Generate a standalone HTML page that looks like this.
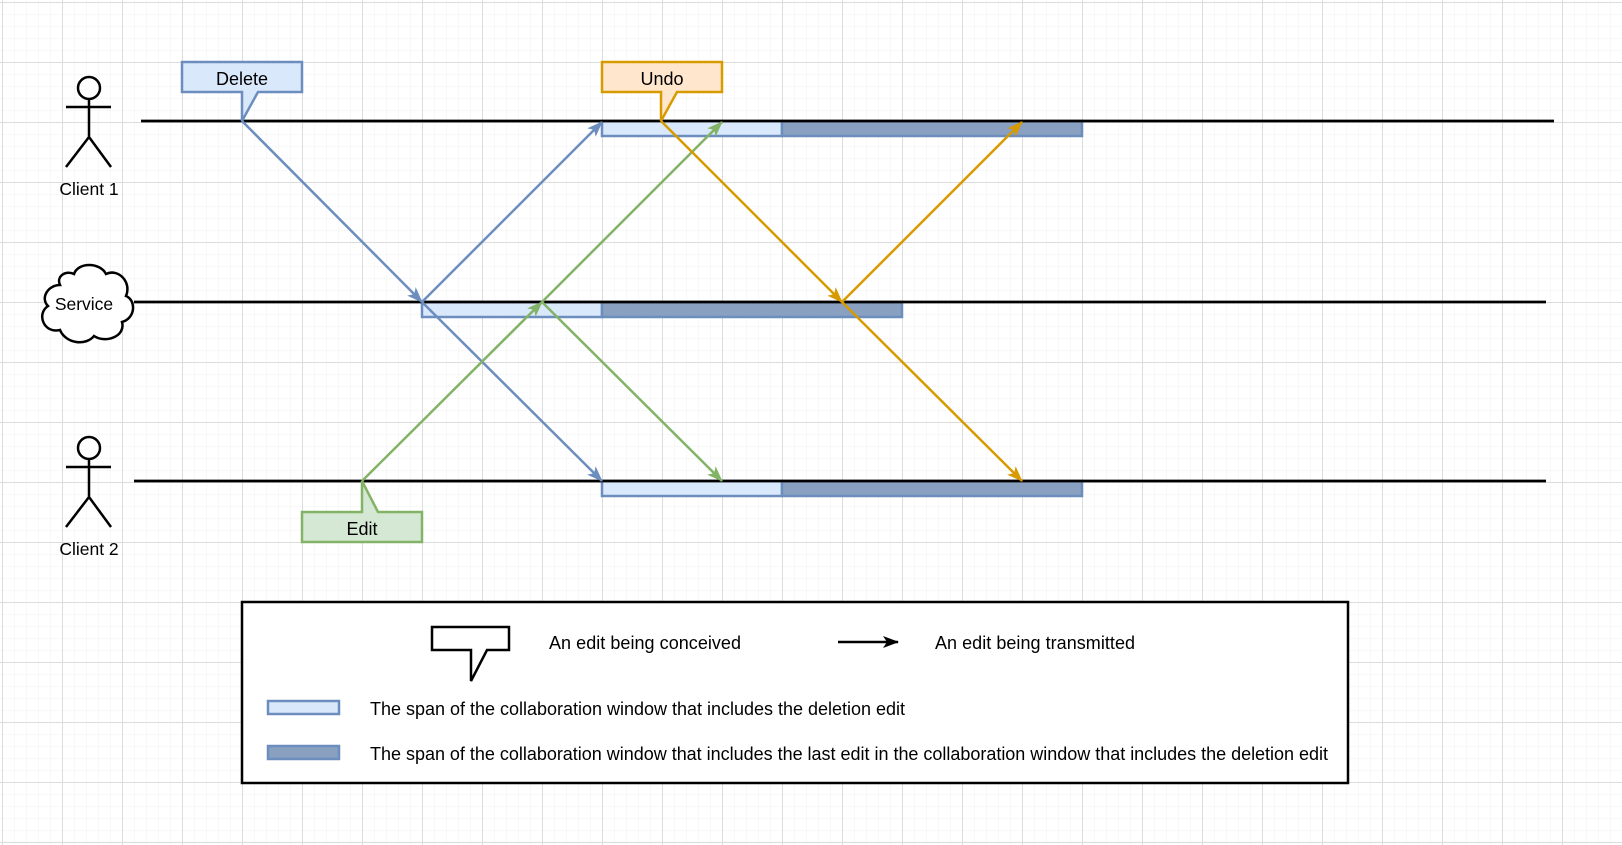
<!DOCTYPE html>
<html><head><meta charset="utf-8"><style>
html,body{margin:0;padding:0;background:#fff;}
svg{display:block;}
text{font-family:"Liberation Sans",Arial,sans-serif;}
</style></head><body>
<svg width="1622" height="845" viewBox="0 0 1622 845" xmlns="http://www.w3.org/2000/svg">
<defs>
<pattern id="minor" x="2" y="2" width="12" height="12" patternUnits="userSpaceOnUse">
<path d="M0 0H12M0 0V12" stroke="#f1f1f1" stroke-width="1" fill="none"/>
</pattern>
<pattern id="major" x="2" y="2" width="60" height="60" patternUnits="userSpaceOnUse">
<path d="M0.5 0V60M0 0.5H60" stroke="#dcdcdc" stroke-width="1" fill="none"/>
</pattern>
<marker id="ab" viewBox="0 0 16 12" refX="15" refY="6" markerWidth="16" markerHeight="12" orient="auto" markerUnits="userSpaceOnUse"><path d="M0 0L16 6L0 12L4 6Z" fill="#6c8ebf"/></marker>
<marker id="ag" viewBox="0 0 16 12" refX="15" refY="6" markerWidth="16" markerHeight="12" orient="auto" markerUnits="userSpaceOnUse"><path d="M0 0L16 6L0 12L4 6Z" fill="#82b366"/></marker>
<marker id="ao" viewBox="0 0 16 12" refX="15" refY="6" markerWidth="16" markerHeight="12" orient="auto" markerUnits="userSpaceOnUse"><path d="M0 0L16 6L0 12L4 6Z" fill="#d79b00"/></marker>
<marker id="ak" viewBox="0 0 16 12" refX="15" refY="6" markerWidth="16" markerHeight="12" orient="auto" markerUnits="userSpaceOnUse"><path d="M0 0L16 6L0 12L4 6Z" fill="#000"/></marker>
</defs>
<rect width="1622" height="845" fill="#fff"/>
<rect width="1622" height="845" fill="url(#minor)"/>
<rect width="1622" height="845" fill="url(#major)"/>

<g stroke="#6c8ebf" stroke-width="2.5">
<rect x="602" y="121" width="180" height="15" fill="#dae8fc"/>
<rect x="782" y="121" width="300" height="15" fill="#8aa0c0"/>
<rect x="422" y="302" width="180" height="15" fill="#dae8fc"/>
<rect x="602" y="302" width="300" height="15" fill="#8aa0c0"/>
<rect x="602" y="481" width="180" height="15" fill="#dae8fc"/>
<rect x="782" y="481" width="300" height="15" fill="#8aa0c0"/>
</g>

<g stroke="#000" stroke-width="2.8">
<line x1="141" y1="121" x2="1554" y2="121"/>
<line x1="134" y1="302" x2="1546" y2="302"/>
<line x1="134" y1="481" x2="1546" y2="481"/>
</g>

<g stroke-width="2.5" fill="none">
<line x1="242" y1="121" x2="422" y2="302" stroke="#6c8ebf" marker-end="url(#ab)"/>
<line x1="422" y1="302" x2="602" y2="122" stroke="#6c8ebf" marker-end="url(#ab)"/>
<line x1="422" y1="302" x2="602" y2="481" stroke="#6c8ebf" marker-end="url(#ab)"/>
<line x1="362" y1="481" x2="542" y2="302" stroke="#82b366" marker-end="url(#ag)"/>
<line x1="542" y1="302" x2="722" y2="122" stroke="#82b366" marker-end="url(#ag)"/>
<line x1="542" y1="302" x2="722" y2="481" stroke="#82b366" marker-end="url(#ag)"/>
<line x1="661" y1="121" x2="842" y2="302" stroke="#d79b00" marker-end="url(#ao)"/>
<line x1="842" y1="302" x2="1022" y2="122" stroke="#d79b00" marker-end="url(#ao)"/>
<line x1="842" y1="302" x2="1022" y2="481" stroke="#d79b00" marker-end="url(#ao)"/>
</g>

<path d="M182 62H302V92H258L242 121V92H182Z" fill="#dae8fc" stroke="#6c8ebf" stroke-width="2.5"/>
<text x="242" y="85" font-size="18" text-anchor="middle">Delete</text>
<path d="M602 62H722V92H677L661 121V92H602Z" fill="#ffe6cc" stroke="#d79b00" stroke-width="2.5"/>
<text x="662" y="85" font-size="18" text-anchor="middle">Undo</text>
<path d="M302 512H362V481L378 512H422V542H302Z" fill="#d5e8d4" stroke="#82b366" stroke-width="2.5"/>
<text x="362" y="535" font-size="18" text-anchor="middle">Edit</text>

<g stroke="#000" stroke-width="2.5" fill="#fff">
<circle cx="89" cy="88" r="11"/>
<path d="M89 99V137M66 107H111M89 137L66 167M89 137L111 167" fill="none"/>
<circle cx="89" cy="448" r="11"/>
<path d="M89 459V497M66 467H111M89 497L66 527M89 497L111 527" fill="none"/>
</g>
<text x="89" y="195" font-size="17.5" text-anchor="middle">Client 1</text>
<text x="89" y="555" font-size="17.5" text-anchor="middle">Client 2</text>

<path d="M60 285 C48 285 40 298 48 306 C36 314 44 334 60 330 C66 344 86 346 94 336 C106 344 126 336 122 322 C136 318 136 300 126 296 C132 282 118 268 106 274 C100 262 78 262 74 274 C66 270 56 276 60 285 Z" fill="#fff" stroke="#000" stroke-width="2.5"/>
<text x="84" y="310" font-size="17.5" text-anchor="middle">Service</text>

<rect x="242" y="602" width="1106" height="181" fill="#fff" stroke="#000" stroke-width="2.5"/>
<path d="M432 627H509V650H487L471 681V650H432Z" fill="#fff" stroke="#000" stroke-width="2.5"/>
<text x="549" y="649" font-size="18" textLength="192">An edit being conceived</text>
<line x1="838" y1="642" x2="898" y2="642" stroke="#000" stroke-width="2.5" marker-end="url(#ak)"/>
<text x="935" y="649" font-size="18" textLength="200">An edit being transmitted</text>
<rect x="268" y="701" width="71" height="13" fill="#dae8fc" stroke="#6c8ebf" stroke-width="2.5"/>
<text x="370" y="715" font-size="18" textLength="535">The span of the collaboration window that includes the deletion edit</text>
<rect x="268" y="746" width="71" height="13" fill="#8aa0c0" stroke="#6c8ebf" stroke-width="2.5"/>
<text x="370" y="760" font-size="18" textLength="958">The span of the collaboration window that includes the last edit in the collaboration window that includes the deletion edit</text>
</svg>
</body></html>
